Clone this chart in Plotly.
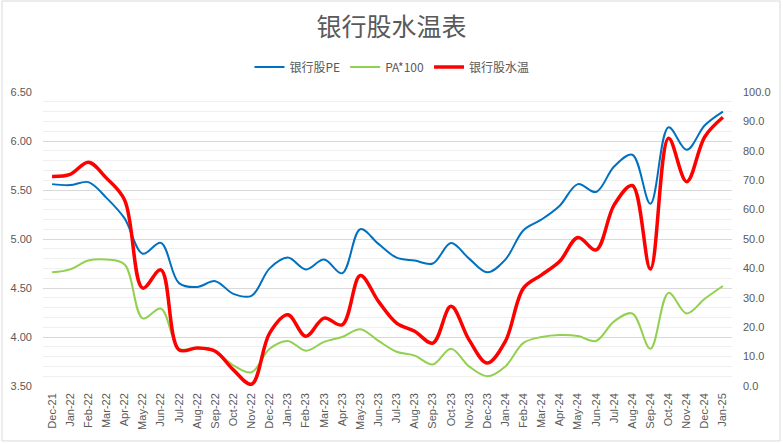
import plotly.graph_objects as go

# monthly categories
months = ["Dec-21", "Jan-22", "Feb-22", "Mar-22", "Apr-22", "May-22", "Jun-22", "Jul-22",
          "Aug-22", "Sep-22", "Oct-22", "Nov-22", "Dec-22", "Jan-23", "Feb-23", "Mar-23",
          "Apr-23", "May-23", "Jun-23", "Jul-23", "Aug-23", "Sep-23", "Oct-23", "Nov-23",
          "Dec-23", "Jan-24", "Feb-24", "Mar-24", "Apr-24", "May-24", "Jun-24", "Jul-24",
          "Aug-24", "Sep-24", "Oct-24", "Nov-24", "Dec-24", "Jan-25"]

# 银行股PE (left axis)
pe = [5.56, 5.55, 5.58, 5.42, 5.21, 4.85, 4.96, 4.55, 4.51, 4.57,
      4.44, 4.42, 4.70, 4.81, 4.69, 4.79, 4.65, 5.10, 4.95, 4.81,
      4.78, 4.75, 4.96, 4.80, 4.66, 4.79, 5.09, 5.20, 5.34, 5.56,
      5.48, 5.74, 5.86, 5.36, 6.14, 5.91, 6.16, 6.30]

# PA*100 (left axis)
pa100 = [4.66, 4.69, 4.78, 4.79, 4.74, 4.19, 4.29, 3.88, 3.89, 3.85,
         3.71, 3.64, 3.88, 3.96, 3.86, 3.95, 4.00, 4.08, 3.96, 3.85,
         3.81, 3.72, 3.88, 3.70, 3.60, 3.70, 3.94, 4.00, 4.02, 4.01,
         3.96, 4.16, 4.24, 3.88, 4.45, 4.24, 4.39, 4.52]

# 银行股水温 (right axis)
water_temp = [71.3, 72.0, 76.1, 70.7, 63.3, 33.3, 39.5, 12.3, 12.9, 11.8,
              5.5, 0.6, 18.0, 24.2, 16.9, 23.1, 20.8, 37.6, 28.8, 21.4,
              18.6, 14.6, 27.1, 15.7, 7.8, 15.2, 33.3, 37.8, 42.4, 50.5,
              46.3, 61.6, 68.2, 39.8, 84.3, 69.5, 84.8, 91.4]

left_ticks = [3.5, 4.0, 4.5, 5.0, 5.5, 6.0, 6.5]
right_ticks = [0, 10, 20, 30, 40, 50, 60, 70, 80, 90, 100]

TEXT = "#595959"
CJK = "Noto Sans CJK SC"

fig = go.Figure()
fig.add_trace(go.Scatter(x=months, y=pe, name="银行股PE", mode="lines",
                         line=dict(color="#0070C0", width=2, shape="spline", smoothing=1)))
fig.add_trace(go.Scatter(x=months, y=pa100, name="PA*100", mode="lines",
                         line=dict(color="#92D050", width=2, shape="spline", smoothing=1)))
fig.add_trace(go.Scatter(x=months, y=water_temp, name="银行股水温", mode="lines", yaxis="y2",
                         line=dict(color="#FF0000", width=3.5, shape="spline", smoothing=1)))

# chart border like the spreadsheet chart frame
fig.add_shape(type="rect", xref="paper", yref="paper",
              x0=-0.0595, x1=1.0697, y0=-0.187, y1=1.3095,
              line=dict(color="#d9d9d9", width=1), layer="below")

fig.update_layout(
    width=783, height=444,
    margin=dict(l=43, r=51, t=92, b=58),
    paper_bgcolor="white", plot_bgcolor="white",
    font=dict(family="Liberation Sans, " + CJK, color=TEXT, size=11),
    title=dict(text="银行股水温表", x=0.5, xanchor="center", y=0.939, yanchor="middle",
               font=dict(family=CJK, size=25, color=TEXT)),
    legend=dict(orientation="h", x=0.5065, xanchor="center", y=1.085, yanchor="middle",
                font=dict(family=CJK, size=12, color=TEXT), itemwidth=30,
                bgcolor="rgba(0,0,0,0)"),
    showlegend=True,
    xaxis=dict(type="category", tickangle=-90, showgrid=False, ticks="",
               showline=False, zeroline=False, ticklabelstandoff=4,
               tickfont=dict(size=11, color=TEXT), range=[-0.5, len(months) - 0.5]),
    yaxis=dict(range=[3.5, 6.5], tickvals=left_ticks, tickformat=".2f",
               showgrid=True, gridcolor="#d9d9d9", gridwidth=1,
               minor=dict(dtick=0.1, showgrid=True, gridcolor="#efefef", gridwidth=1),
               zeroline=False, showline=False, ticks="", ticklabelstandoff=10,
               tickfont=dict(size=11, color=TEXT)),
    yaxis2=dict(range=[0, 100], tickvals=right_ticks, tickformat=".1f", overlaying="y",
                side="right", showgrid=False, zeroline=False, showline=False, ticks="",
                ticklabelstandoff=10, tickfont=dict(size=11, color=TEXT)),
)

# remove the browser's default page margin so the figure sits at the window corner
fig.write_html("out.html", config={"displayModeBar": False},
               post_script="document.body.style.margin='0';")
